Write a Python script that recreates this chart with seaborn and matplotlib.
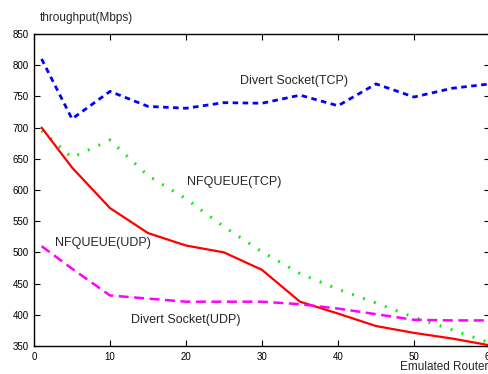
import pandas as pd
import seaborn as sns
from matplotlib import pyplot as plt

routers = [1, 5, 10, 15, 20, 25, 30, 35, 40, 45, 50, 55, 60]
divert_tcp = [810, 714, 758, 734, 731, 740, 739, 752, 735, 770, 749, 763, 770]
nfqueue_tcp = [695, 652, 680, 623, 586, 541, 501, 466, 441, 419, 396, 376, 355]
nfqueue_udp = [700, 636, 571, 531, 511, 500, 472, 421, 402, 382, 371, 362, 351]
divert_udp = [510, 474, 431, 426, 421, 421, 421, 417, 410, 401, 392, 391, 391]

series_names = ["Divert Socket(TCP)", "NFQUEUE(TCP)", "NFQUEUE(UDP)", "Divert Socket(UDP)"]
series_values = [divert_tcp, nfqueue_tcp, nfqueue_udp, divert_udp]
series_colors = ["#0000ff", "#00ee00", "#ff0000", "#ff00ff"]
series_dashes = [(2, 1.6), (0.6, 3.2), "", (4, 2.2)]
series_widths = [2.0, 2.2, 1.6, 1.8]

rows = []
for name, values in zip(series_names, series_values):
    for x, y in zip(routers, values):
        rows.append({"router": x, "throughput": y, "series": name})
df = pd.DataFrame(rows)

sns.set_style("ticks")
plt.rcParams["font.family"] = ["Liberation Sans", "DejaVu Sans"]

fig = plt.figure(figsize=(4.89, 3.74), dpi=100)
ax = fig.add_axes([34 / 489, 28 / 374, 456 / 489, 312 / 374])

sns.lineplot(
    data=df,
    x="router",
    y="throughput",
    hue="series",
    style="series",
    palette=dict(zip(series_names, series_colors)),
    dashes=dict(zip(series_names, series_dashes)),
    legend=False,
    ax=ax,
)
for line, lw in zip(ax.get_lines(), series_widths):
    line.set_linewidth(lw)

ax.set_xlim(0, 60)
ax.set_ylim(350, 850)
ax.set_xticks(range(0, 61, 10))
ax.set_yticks(range(350, 851, 50))
ax.set_xlabel("")
ax.set_ylabel("")
ax.tick_params(direction="in", length=4, width=0.8, top=True, right=True,
               labelsize=7, colors="black", pad=4)
for s in ax.spines.values():
    s.set_visible(True)
    s.set_color("black")
    s.set_linewidth(1.0)

ax.text(27.1, 775, "Divert Socket(TCP)", fontsize=9, va="center", ha="left")
ax.text(20.1, 613, "NFQUEUE(TCP)", fontsize=9, va="center", ha="left")
ax.text(2.8, 515, "NFQUEUE(UDP)", fontsize=9, va="center", ha="left")
ax.text(12.8, 392, "Divert Socket(UDP)", fontsize=9, va="center", ha="left")

fig.text(40 / 489, 1 - 18 / 374, "throughput(Mbps)", fontsize=8.5, va="center", ha="left")
fig.text(488 / 489, 1 / 374, "Emulated Router", fontsize=8.5, va="bottom", ha="right")

fig.savefig("out.png", dpi=100)
